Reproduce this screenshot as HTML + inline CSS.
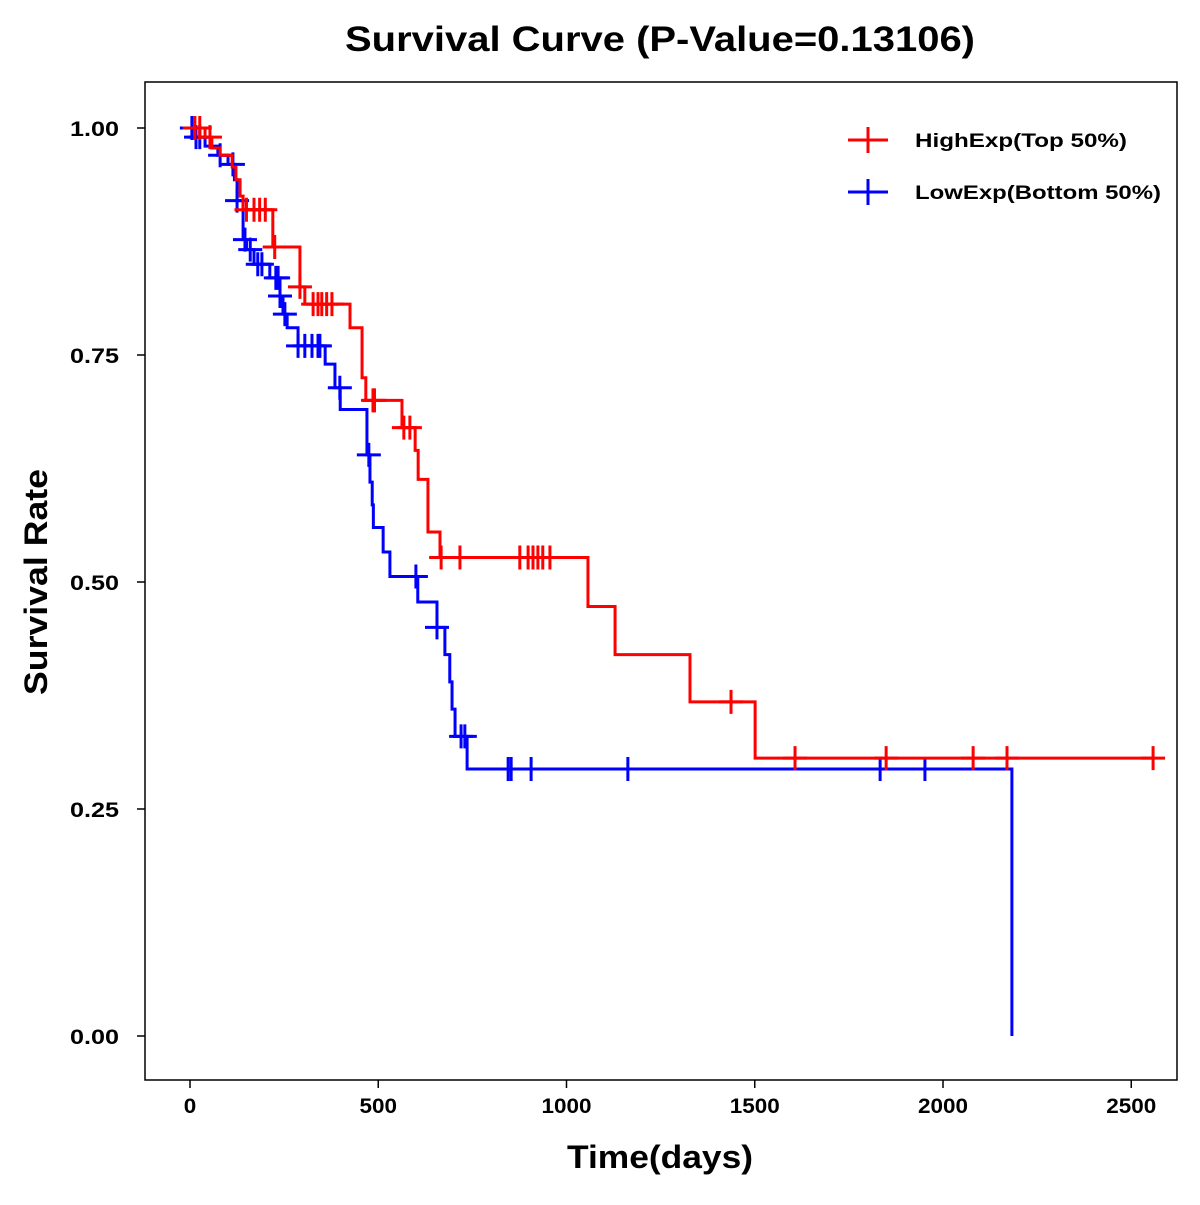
<!DOCTYPE html>
<html><head><meta charset="utf-8"><style>
body{margin:0;background:#fff}
svg text{font-family:"Liberation Sans",Arial,sans-serif;font-weight:bold}
</style></head><body>
<svg id="chart" width="1200" height="1200"></svg>
<script>
const xTicks=[0,500,1000,1500,2000,2500];
const yTicks=[0,0.25,0.5,0.75,1.0];
const yTickLabels=["0.00","0.25","0.50","0.75","1.00"];
const highTimes=[0,40,58,80,112,122,133,141,220,292,305,425,457,467,563,598,606,632,664,1057,1129,1328,1501];
const highSurv=[1,0.99,0.978,0.97,0.957,0.943,0.925,0.91,0.869,0.825,0.806,0.78,0.725,0.70,0.67,0.645,0.613,0.555,0.527,0.473,0.42,0.368,0.306];
const highEnd=2558;
const highCensorT=[13,26,53,150,170,185,200,225,292,327,340,350,363,377,486,490,568,584,667,717,876,898,911,924,937,956,1437,1607,1849,2080,2170,2558];
const lowTimes=[0,13,40,74,101,118,125,141,150,170,212,239,247,258,287,359,385,399,470,478,484,487,513,531,605,656,677,690,696,704,736,2183];
const lowSurv=[1,0.99,0.98,0.97,0.96,0.943,0.92,0.877,0.866,0.85,0.835,0.815,0.795,0.78,0.76,0.74,0.714,0.69,0.64,0.61,0.585,0.56,0.533,0.506,0.478,0.45,0.42,0.39,0.36,0.33,0.294,0.0];
const lowEnd=2183;
const lowCensorT=[5,16,26,80,114,125,146,160,180,191,228,234,239,252,287,305,324,340,345,398,475,600,656,720,730,845,853,906,1163,1833,1952];

const X=d=>190+d*0.3765, Y=s=>1036-s*908;
const svg=document.getElementById('chart');
const NS='http://www.w3.org/2000/svg';
function el(t,a,p){const e=document.createElementNS(NS,t);for(const k in a)e.setAttribute(k,a[k]);(p||svg).appendChild(e);return e;}
function survAt(ts,ss,t){let s=ss[0];for(let i=0;i<ts.length;i++){if(ts[i]<=t)s=ss[i];}return s;}
const LA='spacingAndGlyphs';

let t=el('text',{x:660,y:51,'font-size':35,'text-anchor':'middle',textLength:630,lengthAdjust:LA});t.textContent='Survival Curve (P-Value=0.13106)';

let fr=el('rect',{x:145,y:82,width:1032,height:998,fill:'none',stroke:'#000','stroke-width':1.5});

xTicks.forEach(v=>{const l=el('line',{x1:X(v),x2:X(v),y1:1080,y2:1088,stroke:'#000','stroke-width':1.5});

const s=String(v);
const tx=el('text',{x:X(v),y:1113,'font-size':21,'text-anchor':'middle',textLength:s.length*12.5,lengthAdjust:LA});tx.textContent=v;
});
yTicks.forEach((v,i)=>{const l=el('line',{x1:137,x2:145,y1:Y(v),y2:Y(v),stroke:'#000','stroke-width':1.5});

const tx=el('text',{x:119,y:Y(v)+8,'font-size':21,'text-anchor':'end',textLength:49,lengthAdjust:LA});tx.textContent=yTickLabels[i];
});
t=el('text',{x:660,y:1168,'font-size':32,'text-anchor':'middle',textLength:186,lengthAdjust:LA});t.textContent='Time(days)';

t=el('text',{x:0,y:0,'font-size':32,'text-anchor':'middle',textLength:226,lengthAdjust:LA,transform:'translate(47,582) rotate(-90)'});t.textContent='Survival Rate';


function curve(ts,ss,end,cens,color,name){
  let d='M'+X(ts[0])+','+Y(ss[0]);
  for(let i=1;i<ts.length;i++){d+=' H'+X(ts[i])+' V'+Y(ss[i]);}
  d+=' H'+X(end);
  const p=el('path',{d:d,fill:'none',stroke:color,'stroke-width':3});
  
  cens.forEach(c=>{const s=survAt(ts,ss,c);const cx=X(c),cy=Y(s);
    const m=el('path',{d:`M${cx-12},${cy}H${cx+12}M${cx},${cy-12}V${cy+12}`,stroke:color,'stroke-width':3});
    });
}
curve(lowTimes,lowSurv,lowEnd,lowCensorT,'#0000ff','low-exp');
curve(highTimes,highSurv,highEnd,highCensorT,'#ff0000','high-exp');

[['HighExp(Top 50%)','#ff0000',140,212],['LowExp(Bottom 50%)','#0000ff',192,246]].forEach(([lab,c,y,w])=>{
  const g=el('g',{});
  el('path',{d:`M848,${y}H888M868,${y-13}V${y+13}`,stroke:c,'stroke-width':3},g);
  const tx=el('text',{x:915,y:y+7,'font-size':19,textLength:w,lengthAdjust:LA},g);tx.textContent=lab;
});
</script>
</body></html>
